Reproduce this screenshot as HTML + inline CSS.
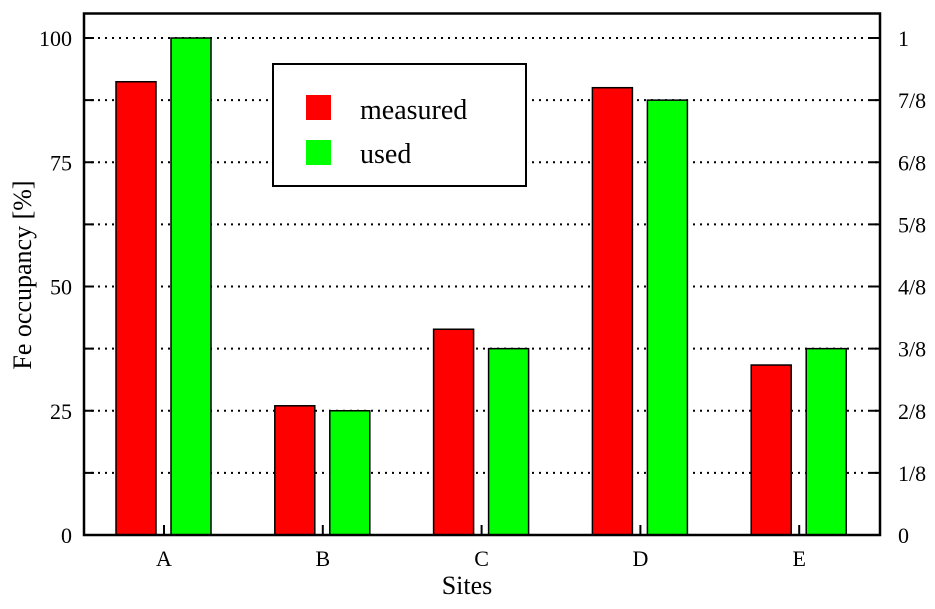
<!DOCTYPE html>
<html><head><meta charset="utf-8"><style>
body{margin:0;background:#fff}
svg text{font-family:"Liberation Serif",serif;fill:#000}
</style></head><body>
<svg width="935" height="604" viewBox="0 0 935 604">
<g id="grid"></g>
<g id="bars"></g>
<g id="axes"></g>
<g>
<rect x="273" y="64" width="253" height="122" fill="#fff" stroke="#000" stroke-width="2"/>
<rect x="306" y="95" width="25" height="25" fill="#ff0000"/>
<text x="360" y="119" font-size="28">measured</text>
<rect x="306" y="140" width="25" height="25" fill="#00ff00"/>
<text x="360" y="163" font-size="28">used</text>
</g>
<text x="467" y="594" font-size="26" text-anchor="middle">Sites</text>
<text transform="translate(31,275) rotate(-90)" font-size="26" text-anchor="middle">Fe occupancy [%]</text>
</svg>
<script>
const categories=["A","B","C","D","E"];
const measured=[91.2,26,41.4,90,34.2];
const used=[100,25,37.5,87.5,37.5];
const leftTicks=[0,25,50,75,100];
const rightTickLabels=["0","1/8","2/8","3/8","4/8","5/8","6/8","7/8","1"];
const L=84,R=880,T=13.5,B=535;
const y=v=>535-v*4.97;
const xc=i=>164+i*158.8;
const ns="http://www.w3.org/2000/svg";
function mk(tag,attrs,parent){const e=document.createElementNS(ns,tag);for(const k in attrs)e.setAttribute(k,attrs[k]);parent.appendChild(e);return e;}
const grid=document.getElementById('grid'),bars=document.getElementById('bars'),axes=document.getElementById('axes');
rightTickLabels.forEach((lab,j)=>{const v=j*12.5,yy=y(v);
 if(j>0&&j<8){const g=mk('line',{x1:L,x2:R,y1:yy,y2:yy,stroke:'#000','stroke-width':2,'stroke-dasharray':'2 5'},grid);
 
 }
 if(j===8){const g=mk('line',{x1:L,x2:R,y1:yy,y2:yy,stroke:'#000','stroke-width':2,'stroke-dasharray':'2 5'},grid);
 
 }
 mk('line',{x1:L,x2:L+10,y1:yy,y2:yy,stroke:'#000','stroke-width':2},axes);
 mk('line',{x1:R-10,x2:R,y1:yy,y2:yy,stroke:'#000','stroke-width':2},axes);
 const t=mk('text',{x:R+18,y:yy+8,'font-size':22},axes);t.textContent=lab;
 
 
});
leftTicks.forEach(v=>{const t=mk('text',{x:72,y:y(v)+8,'font-size':22,'text-anchor':'end'},axes);t.textContent=v;
 
 });
categories.forEach((c,i)=>{
 const r=mk('rect',{x:xc(i)-48,y:y(measured[i]),width:40,height:B-y(measured[i]),fill:'#ff0000',stroke:'#000','stroke-width':1.5},bars);
 
 
 const g=mk('rect',{x:xc(i)+7,y:y(used[i]),width:40,height:B-y(used[i]),fill:'#00ff00',stroke:'#000','stroke-width':1.5},bars);
 
 
 mk('line',{x1:xc(i),x2:xc(i),y1:B,y2:B-10,stroke:'#000','stroke-width':2},axes);
 const t=mk('text',{x:xc(i),y:566,'font-size':22,'text-anchor':'middle'},axes);t.textContent=c;
 
 
});
const f=mk('rect',{x:L,y:T,width:R-L,height:B-T,fill:'none',stroke:'#000','stroke-width':2.5},axes);


</script>
</body></html>
